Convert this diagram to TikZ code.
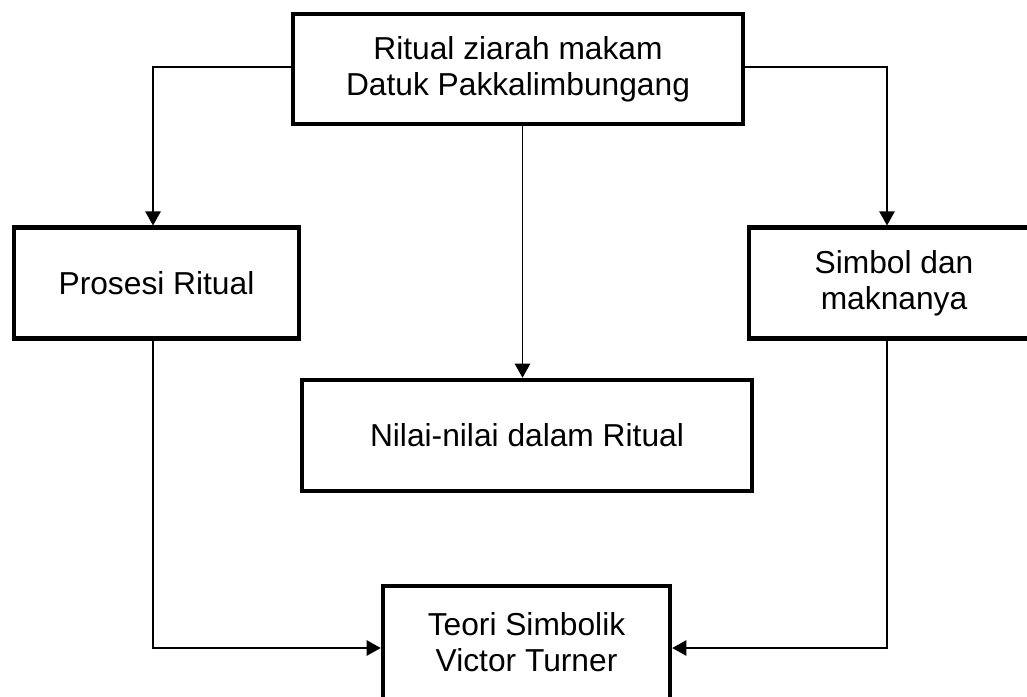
\documentclass[tikz,border=0pt]{standalone}
\usepackage{fontspec}
\setmainfont{Liberation Sans}
\usetikzlibrary{arrows.meta}
\begin{document}
\begin{tikzpicture}[x=0.75pt,y=-0.75pt,
  box/.style={draw, line width=3.4pt, rectangle, align=center, inner sep=0pt,
    font=\fontsize{23.8}{27}\selectfont},
  conn/.style={line width=1pt, -{Triangle[length=10.5pt,width=11.5pt]}}]
\useasboundingbox (0,0) rectangle (1027,696);
\clip (0,0) rectangle (1027,696);
\fill[white] (0,0) rectangle (1027,696);
\node[box, minimum width=337.5pt, minimum height=82.5pt] (top) at (518,69)
  {Ritual ziarah makam\\Datuk Pakkalimbungang};
\node[box, minimum width=213.75pt, minimum height=82.9pt] (left) at (156.5,283) {Prosesi Ritual};
\node[box, minimum width=217.5pt, minimum height=82.9pt] (right) at (894,283) {Simbol dan\\maknanya};
\node[box, minimum width=337.5pt, minimum height=83.25pt] (mid) at (527,435.5) {Nilai-nilai dalam Ritual};
\node[box, minimum width=215.25pt, minimum height=84.75pt] (bot) at (526.5,642.5) {Teori Simbolik\\Victor Turner};
\coordinate (lx) at (153,67);
\coordinate (rx) at (887,67);
\coordinate (mx) at (522.5,0);
\coordinate (ll) at (153,648);
\coordinate (rl) at (887,648);
\draw[conn] (top.west |- lx) -- (lx) -- (left.north -| lx);
\draw[conn] (top.east |- rx) -- (rx) -- (right.north -| rx);
\draw[conn] (top.south -| mx) -- (mid.north -| mx);
\draw[conn] (left.south -| ll) -- (ll) -- (bot.west |- ll);
\draw[conn] (right.south -| rl) -- (rl) -- (bot.east |- rl);
\end{tikzpicture}
\end{document}
